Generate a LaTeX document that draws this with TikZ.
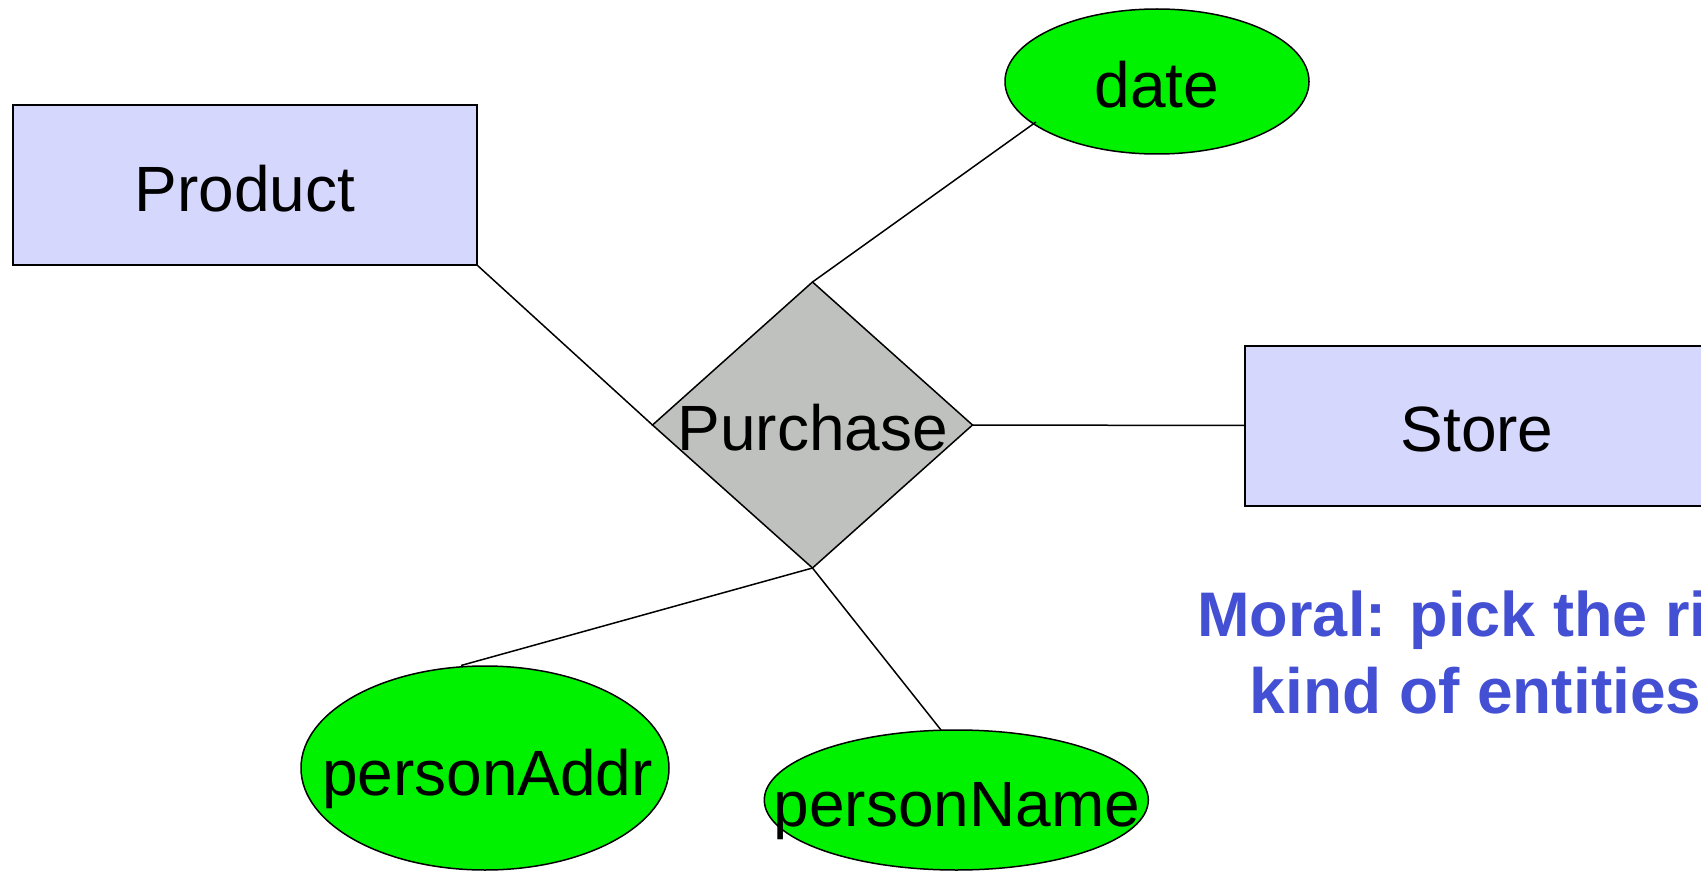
\documentclass[tikz,border=0pt]{standalone}
\usepackage{fontspec}
\setmainfont{Liberation Sans}
\usetikzlibrary{shapes.geometric}
\definecolor{entfill}{RGB}{213,215,253}
\definecolor{attfill}{RGB}{0,242,0}
\definecolor{relfill}{RGB}{191,193,191}
\definecolor{moralblue}{RGB}{68,80,212}
\tikzset{
  entity/.style={draw=black, fill=entfill, line width=2pt, rectangle, inner sep=0pt, outer sep=0pt, minimum width=464pt, minimum height=160pt},
  attrib/.style={draw=black, fill=attfill, line width=1.5pt, ellipse, inner sep=0pt, outer sep=0pt},
  relation/.style={draw=black, fill=relfill, line width=1.5pt, diamond, inner sep=0pt, outer sep=0pt, minimum width=320pt, minimum height=286pt},
  lbl/.style={inner sep=0pt, anchor=base, font=\fontsize{64}{77}\selectfont},
  moral/.style={inner sep=0pt, anchor=base west, text=moralblue, font=\fontsize{64}{77}\selectfont\bfseries},
  conn/.style={draw=black, line width=1.5pt}
}
\begin{document}
\begin{tikzpicture}[x=1pt,y=-1pt]
\useasboundingbox (0,0) rectangle (1701,872);
% shapes
\node[entity] (product) at (245,185) {};
\node[entity] (store) at (1477,425.5) {};
\node[relation] (purchase) at (812.5,425) {};
\node[attrib, minimum width=304pt, minimum height=145pt] (date) at (1157,81.5) {};
\node[attrib, minimum width=368pt, minimum height=204pt] (addr) at (485,768) {};
\node[attrib, minimum width=384pt, minimum height=140pt] (pname) at (956.3,800) {};
% connector free ends
\coordinate (dateEnd) at (1036,122);
\coordinate (addrEnd) at (461,665.5);
\coordinate (nameEnd) at (941,730);
% connectors
\draw[conn] (product.south east) -- (purchase.west);
\draw[conn] (purchase.north) -- (dateEnd);
\draw[conn] (purchase.east) -- (store.west);
\draw[conn] (purchase.south) -- (addrEnd);
\draw[conn] (purchase.south) -- (nameEnd);
% labels
\node[lbl] (productText) at (245,211.7) {Product};
\node[lbl] (storeText) at (1477,451) {Store};
\node[lbl] (purchaseText) at (812.7,450) {Purchase};
\node[lbl] (dateText) at (1157,107.3) {date};
\node[lbl] (addrText) at (487.5,795) {personAddr};
\node[lbl] (nameText) at (957,826.7) {personName};
\node[moral, font=\fontsize{63}{76}\selectfont\bfseries] (moral1) at (1197.3,636.7) {Moral: pick the ri};
\node[moral] (moral2) at (1249.5,713.3) {kind of entities};
\end{tikzpicture}
\end{document}
